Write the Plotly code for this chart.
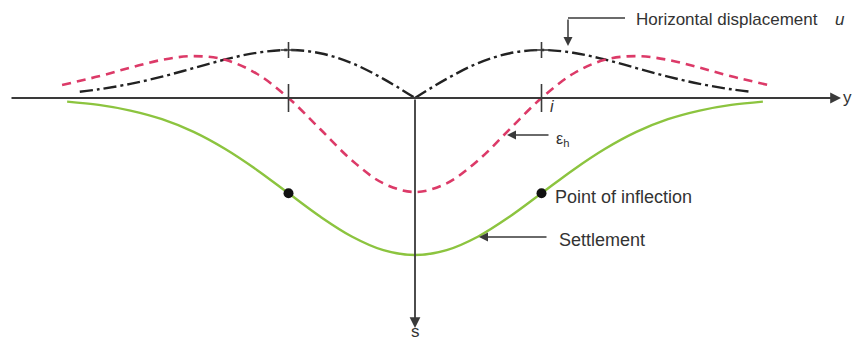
import plotly.graph_objects as go

# Horizontal position, in units of the trough width parameter i
settle_x = [-2.75, -2.5, -2.25, -2.0, -1.75, -1.5, -1.25, -1.0, -0.75, -0.5, -0.25, 0.0,
            0.25, 0.5, 0.75, 1.0, 1.25, 1.5, 1.75, 2.0, 2.25, 2.5, 2.75]
# Settlement (normalised to the maximum, positive downward)
settle_s = [0.023, 0.044, 0.080, 0.135, 0.216, 0.325, 0.458, 0.607, 0.755, 0.882, 0.969, 1.0,
            0.969, 0.882, 0.755, 0.607, 0.458, 0.325, 0.216, 0.135, 0.080, 0.044, 0.023]

# Horizontal displacement magnitude, left and right branches (normalised)
disp_left_x = [-2.65, -2.5, -2.25, -2.0, -1.75, -1.5, -1.25, -1.0, -0.75, -0.5, -0.25, 0.0]
disp_left_u = [0.130, 0.181, 0.295, 0.445, 0.623, 0.803, 0.943, 1.0, 0.933, 0.727, 0.399, 0.0]
disp_right_x = [0.0, 0.25, 0.5, 0.75, 1.0, 1.25, 1.5, 1.75, 2.0, 2.25, 2.5, 2.65]
disp_right_u = [0.0, 0.399, 0.727, 0.933, 1.0, 0.943, 0.803, 0.623, 0.445, 0.295, 0.181, 0.130]

# Horizontal strain (tension positive, upward)
strain_x = [-2.79, -2.5, -2.25, -2.0, -1.75, -1.5, -1.25, -1.0, -0.75, -0.5, -0.25, 0.0,
            0.25, 0.5, 0.75, 1.0, 1.25, 1.5, 1.75, 2.0, 2.25, 2.5, 2.79]
strain_e = [0.139, 0.231, 0.323, 0.406, 0.446, 0.406, 0.258, 0.0, -0.330, -0.662, -0.908, -1.0,
            -0.908, -0.662, -0.330, 0.0, 0.258, 0.406, 0.446, 0.406, 0.323, 0.231, 0.139]

# Points of inflection of the settlement trough
inflect_x = [-1.0, 1.0]
inflect_s = [0.607, 0.607]

W, H = 853, 338
X0, Y0 = 415, 98          # origin of the diagram, in pixels
I_PX = 126.5              # pixels per unit i
SETTLE_PX, DISP_PX, STRAIN_PX = 157, 48, 94

GREEN = "#8CC43F"
RED = "#DC3A68"
BLACK = "#222222"
AXIS = "#3a3a3a"
FONT = "Liberation Sans, Arial, sans-serif"


def yrange(scale):
    return [-(H - Y0) / scale, Y0 / scale]


fig = go.Figure()

fig.add_trace(go.Scatter(x=strain_x, y=strain_e, mode="lines", yaxis="y3",
                         line=dict(color=RED, width=2.6, dash="9px,6px", shape="spline")))
fig.add_trace(go.Scatter(x=disp_left_x, y=disp_left_u, mode="lines", yaxis="y2",
                         line=dict(color=BLACK, width=2.4, dash="13px,4px,3px,4px", shape="spline")))
fig.add_trace(go.Scatter(x=disp_right_x, y=disp_right_u, mode="lines", yaxis="y2",
                         line=dict(color=BLACK, width=2.4, dash="13px,4px,3px,4px", shape="spline")))
fig.add_trace(go.Scatter(x=settle_x, y=[-v for v in settle_s], mode="lines", yaxis="y",
                         line=dict(color=GREEN, width=2.4, shape="spline")))
fig.add_trace(go.Scatter(x=inflect_x, y=[-v for v in inflect_s], mode="markers", yaxis="y",
                         marker=dict(color="#111111", size=10)))

shapes = []
# tick marks at the inflection points on the horizontal axis
for xi in inflect_x:
    shapes.append(dict(type="line", xref="x", yref="y", x0=xi, x1=xi,
                       y0=14 / SETTLE_PX, y1=-14 / SETTLE_PX,
                       line=dict(color=AXIS, width=1.6)))
# crosses at the peak horizontal displacement
for xi, ui in zip([disp_left_x[7], disp_right_x[4]], [disp_left_u[7], disp_right_u[4]]):
    shapes.append(dict(type="line", xref="x", yref="y2", x0=xi, x1=xi,
                       y0=ui - 8 / DISP_PX, y1=ui + 8 / DISP_PX,
                       line=dict(color=AXIS, width=1.6)))
    shapes.append(dict(type="line", xref="x", yref="y2", x0=xi - 8 / I_PX, x1=xi + 8 / I_PX,
                       y0=ui, y1=ui, line=dict(color=AXIS, width=1.6)))
# leader for the horizontal displacement label
shapes.append(dict(type="line", xref="paper", yref="paper",
                   x0=568 / W, x1=625 / W, y0=1 - 18 / H, y1=1 - 18 / H,
                   line=dict(color=AXIS, width=1.5)))


def px(x):
    return x / W


def py(y):
    return 1 - y / H


def arrow(tip, tail, width=1.6, size=1.0):
    return dict(x=px(tip[0]), y=py(tip[1]), xref="paper", yref="paper",
                ax=tail[0] - tip[0], ay=tail[1] - tip[1], axref="pixel", ayref="pixel",
                text="", showarrow=True, arrowhead=2, arrowsize=size,
                arrowwidth=width, arrowcolor=AXIS, standoff=0, startstandoff=0)


def label(text, x, y, size=17, anchor="left"):
    return dict(x=px(x), y=py(y), xref="paper", yref="paper", text=text,
                showarrow=False, xanchor=anchor, yanchor="middle",
                font=dict(family=FONT, size=size, color="#333333"))


annotations = [
    arrow((841, Y0), (10, Y0), width=1.8, size=1.2),
    arrow((X0, 328), (X0, Y0), width=1.8, size=1.2),
    arrow((568, 46), (568, 18), width=1.5, size=1.2),
    arrow((507, 135), (550, 135), width=1.5, size=1.2),
    arrow((479, 237), (548, 237), width=1.5, size=1.2),
    label("Horizontal displacement", 634, 20),
    label("<i>u</i>", 833, 20),
    label("Point of inflection", 553, 197, size=18),
    label("Settlement", 557, 240, size=18),
    label("ε<sub>h</sub>", 554, 139, size=16),
    label("<i>i</i>", 548, 106, size=16),
    label("y", 841, 98),
    label("s", X0, 331, anchor="center"),
]

xr = [-X0 / I_PX, (W - X0) / I_PX]
hidden = dict(visible=False, fixedrange=True)
fig.update_layout(
    width=W, height=H,
    margin=dict(l=0, r=0, t=0, b=0),
    paper_bgcolor="white", plot_bgcolor="white",
    showlegend=False,
    xaxis=dict(range=xr, **hidden),
    yaxis=dict(range=yrange(SETTLE_PX), **hidden),
    yaxis2=dict(range=yrange(DISP_PX), overlaying="y", **hidden),
    yaxis3=dict(range=yrange(STRAIN_PX), overlaying="y", **hidden),
    shapes=shapes,
    annotations=annotations,
)

fig.write_html("out.html")
